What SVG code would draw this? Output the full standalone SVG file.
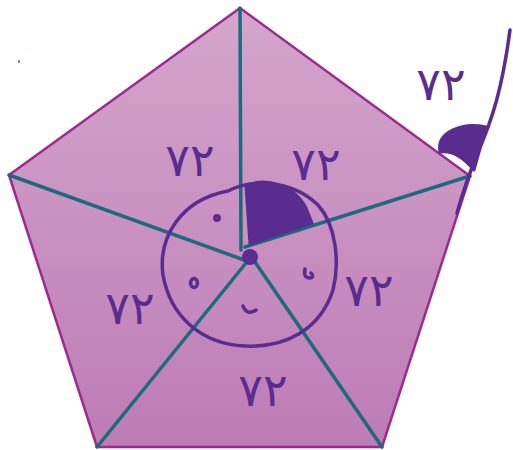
<svg xmlns="http://www.w3.org/2000/svg" width="513" height="450" viewBox="0 0 513 450">
<defs>
<linearGradient id="fillg" x1="0" y1="0" x2="0" y2="1">
<stop offset="0" stop-color="#d4a5cd"/>
<stop offset="1" stop-color="#bd7cb5"/>
</linearGradient>
<style>
.ray{stroke:#1c6a7c;stroke-width:3.5;fill:none;stroke-linecap:round}
.ink{stroke:#5a2c8f;stroke-width:3.5;fill:none;stroke-linecap:round;stroke-linejoin:round}
.lbl{font-family:"DejaVu Sans",sans-serif;font-size:46px;letter-spacing:6px;fill:#5a2c8f;text-anchor:middle}
</style>
</defs>
<rect width="513" height="450" fill="#ffffff"/>
<g id="pentagon">
<polygon points="240,8 470,176 382,447 97,447 9,175" fill="url(#fillg)" stroke="#9c2b90" stroke-width="2.5" stroke-linejoin="round"/>
</g>
<g id="connectors">
<line class="ray" x1="240" y1="8" x2="241" y2="250"/>
<line class="ray" x1="470" y1="176" x2="245" y2="247"/>
<line class="ray" x1="9" y1="175" x2="247" y2="261"/>
<line class="ray" x1="97" y1="447" x2="246" y2="263"/>
<line class="ray" x1="382" y1="447" x2="255" y2="262"/>
</g>
<g id="angle-mark">
<path d="M246,186 C262,178 292,182 306,208 L312,223 L250,244 Z" fill="#5a2c8f" stroke="#5a2c8f" stroke-width="3" stroke-linejoin="round"/>
<circle cx="250" cy="257" r="8" fill="#5a2c8f"/>
</g>
<g id="circle">
<path class="ink" d="M228,191 C248,180 290,178 318,205 C336,225 340,262 333,290 C320,330 285,348 245,346 C200,344 170,315 163,275 C158,238 180,200 228,191 Z"/>
</g>
<g id="marks">
<circle class="ink" cx="217" cy="218" r="2.2" stroke-width="3"/>
<ellipse class="ink" cx="194" cy="283" rx="3.5" ry="4.5" stroke-width="3"/>
<path class="ink" d="M243,306 Q247,316 256,310" stroke-width="3"/>
<path class="ink" d="M305,269 Q303,278 310,278 Q315,277 311,273" stroke-width="3"/>
<line x1="19" y1="60" x2="19" y2="63" stroke="#7a4aa0" stroke-width="1.5"/>
</g>
<g id="exterior">
<path class="ink" d="M510,30 C502,90 492,120 478,152 C470,172 462,195 457,213"/>
<path d="M440,152 C436,132 462,122 486,127 L474,170 C464,158 452,150 440,152 Z" fill="#5a2c8f" stroke="#5a2c8f" stroke-width="3" stroke-linejoin="round"/>
</g>
<g id="labels">
<text class="lbl" x="190" y="176">٧٢</text>
<text class="lbl" x="316" y="180">٧٢</text>
<text class="lbl" x="130" y="324">٧٢</text>
<text class="lbl" x="369" y="306">٧٢</text>
<text class="lbl" x="263" y="406">٧٢</text>
<text class="lbl" x="441" y="100">٧٢</text>
</g>
</svg>
